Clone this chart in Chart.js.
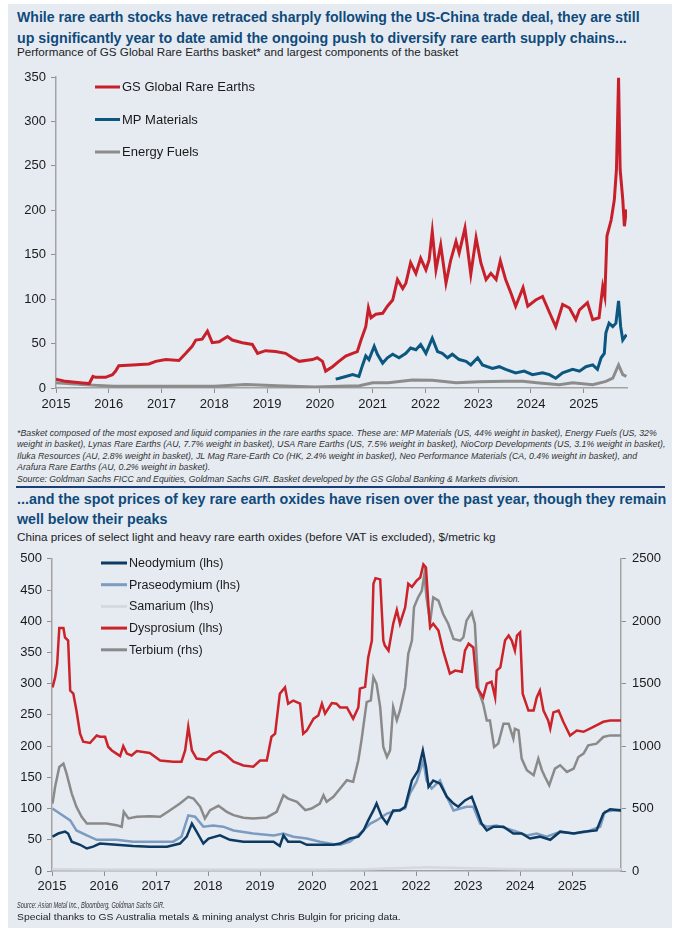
<!DOCTYPE html>
<html>
<head>
<meta charset="utf-8">
<script src="https://cdn.jsdelivr.net/npm/chart.js@4.4.1/dist/chart.umd.min.js"></script>
<style>
  body { margin: 0; background: #fff; font-family: "Liberation Sans", Arial, sans-serif; }
  #page { position: relative; width: 679px; height: 932px; overflow: hidden; }
  #panel { position: absolute; left: 8px; top: 4px; width: 664px; height: 924px; background: #e6ebf2; }
  .t { position: absolute; left: 17px; white-space: nowrap; transform-origin: 0 50%; }
  .title { color: #0f4a7b; font-weight: bold; font-size: 15px; line-height: 20px; }
  .sub { color: #222; font-size: 11.8px; line-height: 14px; }
  .note { color: #333; font-style: italic; font-size: 9.4px; line-height: 11px; }
  .plain { color: #222; font-size: 9.8px; line-height: 12px; }
  .rule { position: absolute; left: 16px; width: 649px; height: 2px; background: #1b3e78; }
  canvas { position: absolute; }
</style>
</head>
<body>
<div id="page">
  <div id="panel"></div>

  <div class="t title" style="top:7px" data-w="623">While rare earth stocks have retraced sharply following the US-China trade deal, they are still</div>
  <div class="t title" style="top:28px" data-w="610">up significantly year to date amid the ongoing push to diversify rare earth supply chains...</div>
  <div class="t sub" style="top:45px" data-w="441">Performance of GS Global Rare Earths basket* and largest components of the basket</div>

  <canvas id="topChart" width="664" height="358" style="left:8px;top:62px"></canvas>

  <div class="t note" style="top:426.5px" data-w="640">*Basket composed of the most exposed and liquid companies in the rare earths space. These are: MP Materials (US, 44% weight in basket), Energy Fuels (US, 32%</div>
  <div class="t note" style="top:438px" data-w="648">weight in basket), Lynas Rare Earths (AU, 7.7% weight in basket), USA Rare Earths (US, 7.5% weight in basket), NioCorp Developments (US, 3.1% weight in basket),</div>
  <div class="t note" style="top:449.5px" data-w="620">Iluka Resources (AU, 2.8% weight in basket), JL Mag Rare-Earth Co (HK, 2.4% weight in basket), Neo Performance Materials (CA, 0.4% weight in basket), and</div>
  <div class="t note" style="top:461px" data-w="193">Arafura Rare Earths (AU, 0.2% weight in basket).</div>
  <div class="t note" style="top:472.5px" data-w="503">Source: Goldman Sachs FICC and Equities, Goldman Sachs GIR. Basket developed by the GS Global Banking &amp; Markets division.</div>

  <div class="rule" style="top:486px"></div>

  <div class="t title" style="top:489px" data-w="649">...and the spot prices of key rare earth oxides have risen over the past year, though they remain</div>
  <div class="t title" style="top:509px" data-w="150">well below their peaks</div>
  <div class="t sub" style="top:530px" data-w="479">China prices of select light and heavy rare earth oxides (before VAT is excluded), $/metric kg</div>

  <canvas id="bottomChart" width="664" height="357" style="left:8px;top:545px"></canvas>

  <div class="t note" style="top:898.5px" data-w="148">Source: Asian Metal Inc., Bloomberg, Goldman Sachs GIR.</div>
  <div class="t plain" style="top:911px" data-w="384">Special thanks to GS Australia metals &amp; mining analyst Chris Bulgin for pricing data.</div>
</div>

<script>
// ---- tick labels ----
const yearTicks = [2015, 2016, 2017, 2018, 2019, 2020, 2021, 2022, 2023, 2024, 2025];

// ---- top chart: index levels ----
const gsYears = [2015.0, 2015.18, 2015.5, 2015.63, 2015.7, 2015.75, 2015.94, 2016.07, 2016.13, 2016.19,
  2016.45, 2016.76, 2016.89, 2017.08, 2017.33, 2017.46, 2017.58, 2017.65, 2017.77, 2017.87,
  2017.96, 2018.09, 2018.25, 2018.34, 2018.53, 2018.72, 2018.82, 2018.97, 2019.16, 2019.35,
  2019.48, 2019.61, 2019.86, 2019.95, 2020.05, 2020.11, 2020.24, 2020.36,
  2020.49, 2020.62, 2020.71, 2020.78, 2020.87, 2020.92, 2020.97, 2021.06, 2021.19, 2021.28,
  2021.38, 2021.47, 2021.57, 2021.63, 2021.72, 2021.82, 2021.91, 2022.01, 2022.07, 2022.13,
  2022.20, 2022.29, 2022.39, 2022.48, 2022.58, 2022.64, 2022.75, 2022.86, 2022.96, 2023.05,
  2023.15, 2023.24, 2023.34, 2023.42, 2023.52, 2023.62, 2023.71, 2023.85, 2023.94, 2024.09,
  2024.22, 2024.38, 2024.47, 2024.6, 2024.73, 2024.85, 2024.92, 2025.07, 2025.17, 2025.29,
  2025.36, 2025.4, 2025.44, 2025.52, 2025.58, 2025.62, 2025.66, 2025.69, 2025.74, 2025.77, 2025.81];
const gsValues = [10, 7.5, 5.6, 5, 13, 12, 12, 15, 19, 25,
  26, 27, 30, 32, 31, 39, 47, 54, 55, 64,
  51, 52, 58, 54, 51, 49, 39, 42, 41, 39,
  34, 30, 32, 34, 30, 19, 24, 30,
  36, 39, 41, 54, 69, 90, 79, 83, 84, 92,
  99, 122, 112, 118, 141, 129, 146, 133, 144, 176,
  133, 161, 118, 144, 165, 152, 180, 128, 169, 141,
  122, 129, 122, 143, 122, 107, 92, 113, 92, 99,
  103, 81, 69, 94, 90, 77, 88, 96, 77, 79,
  114, 103, 171, 189, 212, 246, 349, 246, 212, 182, 201];

const mpYears = [2020.30, 2020.37, 2020.49, 2020.62, 2020.74, 2020.81, 2020.87, 2020.93, 2021.03, 2021.09,
  2021.19, 2021.28, 2021.38, 2021.5, 2021.63, 2021.72, 2021.82, 2021.91, 2022.01, 2022.13,
  2022.23, 2022.32, 2022.42, 2022.51, 2022.64, 2022.77, 2022.86, 2022.99, 2023.08, 2023.27,
  2023.4, 2023.52, 2023.71, 2023.87, 2024.03, 2024.22, 2024.35, 2024.47, 2024.6, 2024.79,
  2024.92, 2025.04, 2025.17, 2025.26, 2025.33, 2025.39, 2025.42, 2025.48, 2025.55, 2025.61,
  2025.66, 2025.7, 2025.74, 2025.81];
const mpValues = [10, 11, 13, 15, 13, 26, 36, 32, 47, 38,
  28, 34, 38, 34, 39, 45, 43, 49, 39, 56,
  41, 39, 34, 38, 32, 30, 26, 34, 26, 22,
  24, 21, 17, 19, 15, 17, 15, 11, 17, 21,
  19, 24, 26, 21, 34, 39, 62, 73, 69, 73,
  98, 69, 54, 60];

const efYears = [2015, 2015.5, 2016.1, 2017.05, 2018.0, 2018.6, 2019.2, 2019.9, 2020.37, 2020.75,
  2021.0, 2021.3, 2021.75, 2022.13, 2022.58, 2023.02, 2023.52, 2023.84, 2024.16, 2024.54,
  2024.79, 2025.17, 2025.42, 2025.55, 2025.66, 2025.74, 2025.81];
const efValues = [6, 3.8, 2, 2, 2, 3.8, 2.6, 1, 2, 2.5,
  6, 6, 9, 8.6, 6, 7, 7.5, 7.5, 5.6, 3.8,
  6, 3.8, 7.5, 11, 26, 15, 13];

// ---- bottom chart: oxide prices, $/kg ----
const ndYears = [2015.01, 2015.12, 2015.25, 2015.31, 2015.38, 2015.54, 2015.67, 2015.79, 2015.92, 2016.24,
  2016.56, 2016.88, 2017.21, 2017.46, 2017.59, 2017.69, 2017.78, 2017.91, 2018.01, 2018.23,
  2018.42, 2018.68, 2019.0, 2019.26, 2019.38, 2019.45, 2019.54, 2019.77, 2019.9, 2020.15, 2020.41,
  2020.54, 2020.73, 2020.89, 2020.99, 2021.08, 2021.18, 2021.24, 2021.34, 2021.44, 2021.56,
  2021.69, 2021.79, 2021.92, 2022.04, 2022.13, 2022.19, 2022.24, 2022.33, 2022.46, 2022.59,
  2022.72, 2022.81, 2022.94, 2023.07, 2023.17, 2023.26, 2023.36, 2023.49, 2023.68, 2023.87,
  2024.03, 2024.19, 2024.38, 2024.58, 2024.77, 2025.03, 2025.22, 2025.47, 2025.6, 2025.73, 2025.95];
const ndValues = [55, 60, 63, 60, 47, 42, 36, 39, 44, 42,
  40, 39, 39, 44, 55, 76, 63, 44, 52, 57,
  50, 47, 47, 47, 40, 57, 47, 47, 42, 42, 42,
  44, 52, 55, 65, 81, 97, 108, 87, 76, 97,
  97, 103, 145, 161, 193, 167, 135, 145, 140, 119,
  108, 103, 113, 119, 97, 76, 65, 71, 71, 60,
  60, 52, 55, 50, 63, 60, 63, 65, 92, 99, 97];

const prYears = [2015.01, 2015.15, 2015.35, 2015.47, 2015.67, 2015.86, 2016.24, 2016.56, 2016.88, 2017.33,
  2017.49, 2017.62, 2017.75, 2017.91, 2018.1, 2018.29, 2018.49, 2018.87, 2019.26, 2019.45,
  2019.64, 2019.9, 2020.15, 2020.41,
  2020.54, 2020.73, 2020.92, 2021.12, 2021.24, 2021.44, 2021.63, 2021.79, 2021.88, 2022.01,
  2022.14, 2022.2, 2022.3, 2022.46, 2022.59, 2022.72, 2022.85, 2022.97, 2023.1, 2023.23,
  2023.36, 2023.55, 2023.74, 2023.94, 2024.13, 2024.32, 2024.51, 2024.77, 2025.03, 2025.28,
  2025.54, 2025.63, 2025.79, 2025.95];
const prValues = [100, 92, 81, 65, 57, 50, 50, 47, 47, 47,
  55, 89, 87, 71, 73, 71, 65, 60, 57, 60,
  55, 52, 47, 43,
  42, 47, 60, 76, 81, 92, 97, 100, 124, 143,
  177, 145, 132, 145, 119, 97, 100, 103, 103, 76,
  71, 73, 68, 63, 57, 60, 55, 63, 60, 63,
  71, 95, 97, 97];

const smYears = [2015, 2016, 2017, 2018, 2019, 2020, 2021, 2021.8, 2022.2, 2022.8, 2023.5, 2024, 2025, 2025.95];
const smValues = [3, 2.5, 2.5, 2.5, 2.5, 2.5, 3, 5, 6, 5, 3.5, 3, 3, 3];

const dyYears = [2015.01, 2015.06, 2015.1, 2015.14, 2015.22, 2015.25, 2015.31, 2015.35, 2015.41, 2015.47,
  2015.54, 2015.6, 2015.73, 2015.86, 2015.92, 2016.02, 2016.08, 2016.15, 2016.24, 2016.31,
  2016.37, 2016.44, 2016.53, 2016.63, 2016.88, 2017.08, 2017.33, 2017.49, 2017.56, 2017.62,
  2017.69, 2017.78, 2017.97, 2018.1, 2018.23, 2018.36, 2018.49, 2018.68, 2018.87, 2019.0,
  2019.13, 2019.22, 2019.29, 2019.38, 2019.48, 2019.54, 2019.64, 2019.77, 2019.83, 2019.9,
  2020.03, 2020.12, 2020.19, 2020.25, 2020.38, 2020.47,
  2020.54, 2020.67, 2020.79, 2020.89, 2020.92, 2021.02, 2021.08, 2021.15, 2021.18, 2021.22,
  2021.31, 2021.37, 2021.4, 2021.47, 2021.56, 2021.63, 2021.69, 2021.79, 2021.85, 2021.92,
  2022.01, 2022.08, 2022.14, 2022.19, 2022.24, 2022.27, 2022.33, 2022.43, 2022.52, 2022.65,
  2022.75, 2022.88, 2022.94, 2023.01, 2023.1, 2023.17, 2023.29, 2023.36, 2023.45, 2023.52,
  2023.55, 2023.62, 2023.71, 2023.78, 2023.84, 2023.9, 2023.94, 2024.0, 2024.05, 2024.16,
  2024.26, 2024.32, 2024.38, 2024.45, 2024.54, 2024.58, 2024.64, 2024.74, 2024.83, 2024.96,
  2025.09, 2025.22, 2025.41, 2025.6, 2025.73, 2025.95];
const dyValues = [294, 310, 332, 389, 389, 374, 369, 289, 284, 257,
  220, 207, 205, 217, 215, 215, 199, 193, 188, 184,
  200, 188, 185, 192, 189, 177, 175, 175, 193, 231,
  193, 180, 178, 188, 192, 185, 175, 169, 167, 177,
  177, 215, 220, 284, 294, 268, 273, 268, 220, 225,
  244, 249, 268, 252, 269, 268,
  262, 262, 244, 262, 292, 295, 342, 369, 460, 469,
  467, 369, 361, 353, 396, 418, 396, 422, 460, 455,
  465, 470, 491, 486, 422, 390, 396, 385, 353, 316,
  321, 319, 353, 364, 358, 294, 278, 300, 303, 278,
  321, 326, 369, 377, 369, 353, 377, 382, 284, 257,
  257, 278, 289, 257, 241, 228, 254, 257, 239, 217,
  225, 223, 231, 239, 241, 241];

const tbYears = [2015.01, 2015.06, 2015.14, 2015.22, 2015.28, 2015.38, 2015.47, 2015.57, 2015.67, 2015.86,
  2016.05, 2016.24, 2016.34, 2016.38, 2016.47, 2016.63, 2016.88, 2017.08, 2017.27, 2017.46,
  2017.62, 2017.72, 2017.85, 2017.94, 2018.04, 2018.2, 2018.36, 2018.49, 2018.68, 2018.87,
  2019.13, 2019.32, 2019.45, 2019.54, 2019.71, 2019.87, 2019.99, 2020.15, 2020.22, 2020.28, 2020.41,
  2020.54, 2020.67, 2020.79, 2020.89, 2020.95, 2021.05, 2021.13, 2021.18, 2021.24, 2021.31,
  2021.37, 2021.44, 2021.5, 2021.56, 2021.63, 2021.69, 2021.79, 2021.85, 2021.92, 2021.96,
  2022.04, 2022.11, 2022.16, 2022.2, 2022.27, 2022.33, 2022.43, 2022.52, 2022.62, 2022.72,
  2022.85, 2022.91, 2022.97, 2023.07, 2023.13, 2023.2, 2023.29, 2023.36, 2023.42, 2023.5,
  2023.58, 2023.68, 2023.78, 2023.87, 2023.9, 2023.97, 2024.03, 2024.13, 2024.26, 2024.35,
  2024.42, 2024.48, 2024.56, 2024.67, 2024.77, 2024.9, 2025.03, 2025.12, 2025.22, 2025.31,
  2025.47, 2025.6, 2025.73, 2025.95];
const tbValues = [540, 674, 833, 860, 780, 620, 514, 434, 381, 381,
  381, 367, 354, 474, 421, 434, 439, 434, 487, 540,
  594, 580, 514, 421, 487, 522, 474, 447, 426, 421,
  429, 474, 607, 580, 554, 487, 500, 540, 607, 554, 594,
  660, 727, 714, 887, 1046, 1353, 1366, 1552, 1499, 1313,
  993, 913, 966, 1313, 1206, 1286, 1472, 1739, 1845, 2111,
  2191, 2244, 2378, 2191, 1992, 2191, 2165, 2058, 1978, 1858,
  1845, 1872, 2005, 2071, 1978, 1446, 1339, 1206, 1206, 993,
  1020, 1179, 1179, 1060, 1139, 1126, 900, 807, 767, 900,
  807, 753, 687, 820, 847, 793, 820, 913, 940, 1006,
  1020, 1073, 1086, 1086];

// fit each text line to its measured width in the reference
document.querySelectorAll('[data-w]').forEach(el => {
  const w = parseFloat(el.dataset.w);
  el.style.transform = 'scaleX(' + (w / el.scrollWidth) + ')';
});

const pairs = (xs, ys) => xs.map((x, i) => ({ x: x, y: ys[i] }));

Chart.defaults.font.family = "'Liberation Sans', Arial, sans-serif";
Chart.defaults.font.size = 13;
Chart.defaults.color = '#1a1a1a';

// legend drawn as a stacked list inside the plot
const sideLegend = {
  id: 'sideLegend',
  afterDraw(chart, args, opts) {
    const ctx = chart.ctx;
    ctx.save();
    ctx.font = opts.fontSize + "px 'Liberation Sans', Arial, sans-serif";
    ctx.textBaseline = 'middle';
    chart.data.datasets.forEach((ds, i) => {
      const y = opts.y + i * opts.gap;
      ctx.strokeStyle = ds.borderColor;
      ctx.lineWidth = opts.lineWidth;
      ctx.beginPath();
      ctx.moveTo(opts.x, y);
      ctx.lineTo(opts.x + opts.len, y);
      ctx.stroke();
      ctx.fillStyle = '#1a1a1a';
      ctx.fillText(ds.label, opts.x + opts.len + 2, y + 0.5);
    });
    ctx.restore();
  }
};

const axisGrid = { drawOnChartArea: false, drawTicks: true, tickLength: 5, color: '#8f8f8f' };
const axisBorder = { display: true, color: '#a3a3a3', width: 1.5 };

function yearAxis(height, pad) {
  return {
    type: 'linear',
    afterBuildTicks: s => { s.ticks = yearTicks.map(v => ({ value: v })); },
    afterFit: s => { s.height = height; },
    ticks: { callback: v => String(v), maxRotation: 0, autoSkip: false, padding: pad, font: { size: 13 } },
    grid: axisGrid,
    border: axisBorder
  };
}

function line(label, xs, ys, color, width, axis) {
  return {
    label: label,
    data: pairs(xs, ys),
    borderColor: color,
    borderWidth: width,
    pointRadius: 0,
    tension: 0,
    fill: false,
    yAxisID: axis || 'y'
  };
}

new Chart(document.getElementById('topChart'), {
  type: 'line',
  data: {
    datasets: [
      line('GS Global Rare Earths', gsYears, gsValues, '#c8202b', 3),
      line('MP Materials', mpYears, mpValues, '#0b5780', 3),
      line('Energy Fuels', efYears, efValues, '#8c8c8c', 3)
    ]
  },
  options: {
    responsive: false,
    animation: false,
    layout: { padding: { top: 15, right: 45, left: 0, bottom: 0 } },
    plugins: {
      legend: { display: false },
      tooltip: { enabled: false },
      sideLegend: { x: 87, y: 25, gap: 32.5, len: 25, lineWidth: 3, fontSize: 13 }
    },
    scales: {
      x: Object.assign(yearAxis(32, 4), { min: 2015, max: 2025.82 }),
      y: {
        min: 0, max: 350,
        afterFit: s => { s.width = 48; },
        ticks: { stepSize: 50, padding: 5, font: { size: 13 } },
        grid: axisGrid,
        border: axisBorder
      }
    }
  },
  plugins: [sideLegend]
});

new Chart(document.getElementById('bottomChart'), {
  type: 'line',
  data: {
    datasets: [
      line('Neodymium (lhs)', ndYears, ndValues, '#0c3a62', 2.5),
      line('Praseodymium (lhs)', prYears, prValues, '#7b9cc0', 2.5),
      line('Samarium (lhs)', smYears, smValues, '#d5d9df', 2.5),
      line('Dysprosium (lhs)', dyYears, dyValues, '#cc2229', 2.5),
      line('Terbium (rhs)', tbYears, tbValues, '#8a8a8a', 2.5, 'y1')
    ]
  },
  options: {
    responsive: false,
    animation: false,
    layout: { padding: { top: 13, right: 0, left: 0, bottom: 0 } },
    plugins: {
      legend: { display: false },
      tooltip: { enabled: false },
      sideLegend: { x: 93, y: 18, gap: 21.7, len: 26, lineWidth: 3, fontSize: 12.5 }
    },
    scales: {
      x: Object.assign(yearAxis(31, 3), { min: 2015, max: 2025.94 }),
      y: {
        min: 0, max: 500,
        afterFit: s => { s.width = 44; },
        ticks: { stepSize: 50, padding: 5, font: { size: 13 } },
        grid: axisGrid,
        border: axisBorder
      },
      y1: {
        position: 'right',
        min: 0, max: 2500,
        afterFit: s => { s.width = 51; },
        ticks: { stepSize: 500, padding: 6, callback: v => String(v), font: { size: 13 } },
        grid: axisGrid,
        border: axisBorder
      }
    }
  },
  plugins: [sideLegend]
});
</script>
</body>
</html>
